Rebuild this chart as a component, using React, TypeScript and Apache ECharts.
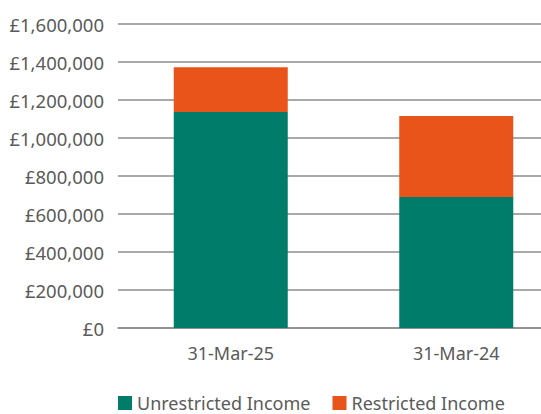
import React, { useEffect, useRef } from "react";
import * as echarts from "echarts";

const categories = ["31-Mar-25", "31-Mar-24"];
const unrestricted = [1137000, 689000];
const restricted = [236000, 427000];
const seriesNames = ["Unrestricted Income", "Restricted Income"];

const FONT = "Noto Sans";
const TEXT = "#5a5a5a";

export default function App() {
  const ref = useRef<HTMLDivElement>(null);
  useEffect(() => {
    if (!ref.current) return;
    const chart = echarts.init(ref.current, null, { renderer: "svg" });
    chart.setOption({
      animation: false,
      grid: { left: 118, right: 0, top: 24, bottom: 86, containLabel: false },
      legend: {
        left: 113,
        top: 389,
        itemWidth: 14,
        itemHeight: 14,
        itemGap: 22,
        icon: "rect",
        textStyle: { fontFamily: FONT, fontSize: 18, color: TEXT },
        data: seriesNames,
      },
      xAxis: {
        type: "category",
        data: categories,
        axisLine: { show: true, lineStyle: { color: "#8c8c8c", width: 1.5 } },
        axisTick: { show: false },
        axisLabel: { fontFamily: FONT, fontSize: 18, color: TEXT, margin: 16 },
      },
      yAxis: {
        type: "value",
        min: 0,
        max: 1600000,
        interval: 200000,
        axisLine: { show: false },
        axisTick: { show: false },
        splitLine: { lineStyle: { color: "#8c8c8c", width: 1.5 } },
        axisLabel: {
          fontFamily: FONT,
          fontSize: 18.5,
          color: TEXT,
          margin: 14,
          formatter: (v: number) => "£" + v.toLocaleString("en-GB"),
        },
      },
      series: [
        {
          name: seriesNames[0],
          type: "bar",
          stack: "total",
          data: unrestricted,
          barWidth: 114,
          itemStyle: { color: "#007c6a" },
        },
        {
          name: seriesNames[1],
          type: "bar",
          stack: "total",
          data: restricted,
          barWidth: 114,
          itemStyle: { color: "#e8541a" },
        },
      ],
    });
    return () => chart.dispose();
  }, []);
  return (
    <div
      ref={ref}
      style={{ position: "absolute", left: 0, top: 0, width: 569, height: 414 }}
    />
  );
}
